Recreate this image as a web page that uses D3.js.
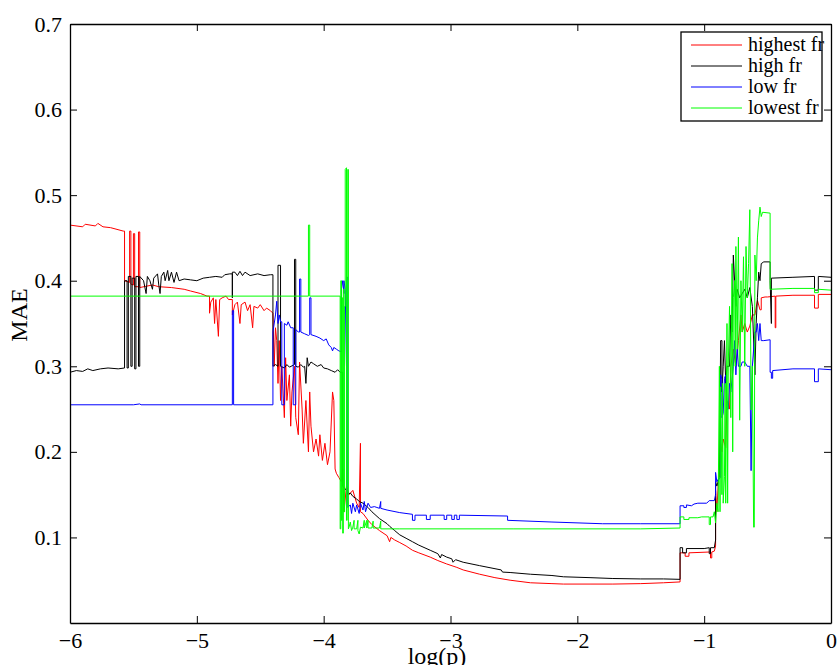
<!DOCTYPE html>
<html>
<head>
<meta charset="utf-8">
<script src="https://cdn.jsdelivr.net/npm/d3@7"></script>
<style>
  body { margin: 0; background: #fff; }
  text { font-family: "Liberation Serif", "DejaVu Serif", serif; }
</style>
</head>
<body>
<div id="chart"></div>
<script>
// tick values
const xTicks = [-6, -5, -4, -3, -2, -1, 0]
const yTicks = [0.1, 0.2, 0.3, 0.4, 0.5, 0.6, 0.7]
const seriesNames = ["highest fr", "high fr", "low fr", "lowest fr"]
const seriesColors = ["#ff0000", "#000000", "#0000ff", "#00ff00"]

// [log(p), MAE]
const highestFr = [
  [-6.00, 0.465], [-5.90, 0.463], [-5.88, 0.466], [-5.80, 0.464], [-5.78, 0.467], [-5.74, 0.463], [-5.68, 0.462], [-5.58, 0.458],
  [-5.57, 0.458], [-5.57, 0.40], [-5.53, 0.398], [-5.53, 0.458], [-5.52, 0.458], [-5.52, 0.396], [-5.50, 0.395], [-5.50, 0.455],
  [-5.49, 0.455], [-5.49, 0.393], [-5.46, 0.393], [-5.46, 0.457], [-5.45, 0.457], [-5.45, 0.392],
  [-5.35, 0.395], [-5.30, 0.393], [-5.20, 0.392], [-5.10, 0.390], [-5.05, 0.388], [-4.97, 0.385], [-4.92, 0.382], [-4.90, 0.382],
  [-4.90, 0.362], [-4.89, 0.375], [-4.87, 0.380], [-4.86, 0.350], [-4.85, 0.378], [-4.83, 0.335], [-4.82, 0.378], [-4.80, 0.380],
  [-4.77, 0.382], [-4.75, 0.378], [-4.72, 0.378], [-4.72, 0.360], [-4.70, 0.372], [-4.68, 0.375], [-4.66, 0.350], [-4.65, 0.372],
  [-4.62, 0.375], [-4.60, 0.365], [-4.58, 0.372], [-4.56, 0.345], [-4.55, 0.370], [-4.52, 0.368], [-4.50, 0.372], [-4.47, 0.365],
  [-4.45, 0.368], [-4.42, 0.365], [-4.40, 0.362],
  [-4.39, 0.30], [-4.38, 0.345], [-4.37, 0.33], [-4.36, 0.28], [-4.35, 0.33], [-4.34, 0.26], [-4.33, 0.30], [-4.31, 0.24],
  [-4.30, 0.31], [-4.29, 0.26], [-4.27, 0.29], [-4.26, 0.23], [-4.25, 0.27], [-4.23, 0.30], [-4.22, 0.24], [-4.20, 0.22],
  [-4.19, 0.305], [-4.17, 0.25], [-4.16, 0.21], [-4.14, 0.26], [-4.12, 0.20], [-4.11, 0.27], [-4.10, 0.23], [-4.08, 0.20],
  [-4.06, 0.215], [-4.04, 0.195], [-4.03, 0.22], [-4.01, 0.19], [-3.99, 0.21], [-3.97, 0.185], [-3.95, 0.20], [-3.93, 0.27],
  [-3.92, 0.26], [-3.91, 0.18], [-3.90, 0.175], [-3.88, 0.17], [-3.86, 0.165], [-3.85, 0.18], [-3.84, 0.13], [-3.82, 0.16],
  [-3.80, 0.15], [-3.77, 0.155], [-3.74, 0.14], [-3.72, 0.135], [-3.71, 0.21], [-3.71, 0.13], [-3.69, 0.128], [-3.65, 0.12],
  [-3.62, 0.115], [-3.56, 0.108], [-3.50, 0.102], [-3.48, 0.095], [-3.47, 0.10], [-3.44, 0.097], [-3.40, 0.094], [-3.35, 0.090],
  [-3.30, 0.085], [-3.25, 0.082], [-3.16, 0.077], [-3.10, 0.073], [-3.03, 0.069], [-2.95, 0.065], [-2.90, 0.062], [-2.77, 0.057],
  [-2.65, 0.053], [-2.53, 0.050], [-2.37, 0.047], [-2.20, 0.046], [-2.11, 0.0455], [-1.90, 0.0455], [-1.72, 0.0455], [-1.50, 0.046],
  [-1.32, 0.047], [-1.19, 0.048],
  [-1.19, 0.082], [-1.15, 0.082], [-1.15, 0.078], [-1.12, 0.078], [-1.12, 0.082], [-0.95, 0.083], [-0.95, 0.076], [-0.94, 0.076],
  [-0.94, 0.083], [-0.92, 0.084],
  [-0.91, 0.09], [-0.91, 0.155], [-0.90, 0.13], [-0.89, 0.16], [-0.87, 0.21], [-0.86, 0.20], [-0.85, 0.215], [-0.83, 0.205],
  [-0.82, 0.26], [-0.80, 0.25], [-0.79, 0.30], [-0.77, 0.32], [-0.75, 0.30], [-0.73, 0.33], [-0.71, 0.36], [-0.70, 0.34],
  [-0.68, 0.35], [-0.66, 0.34], [-0.64, 0.347], [-0.62, 0.36], [-0.60, 0.36], [-0.58, 0.377], [-0.56, 0.366], [-0.55, 0.366],
  [-0.55, 0.38], [-0.52, 0.381], [-0.50, 0.381], [-0.44, 0.382], [-0.44, 0.345], [-0.435, 0.345], [-0.435, 0.382],
  [-0.30, 0.383], [-0.13, 0.383], [-0.13, 0.368], [-0.10, 0.368], [-0.10, 0.384], [0, 0.384]
]

const highFr = [
  [-6.00, 0.293], [-5.95, 0.295], [-5.90, 0.294], [-5.86, 0.297], [-5.82, 0.295], [-5.76, 0.297], [-5.70, 0.298], [-5.62, 0.297],
  [-5.57, 0.298], [-5.57, 0.40], [-5.55, 0.40], [-5.55, 0.298], [-5.54, 0.298], [-5.54, 0.405], [-5.52, 0.405], [-5.52, 0.30],
  [-5.51, 0.30], [-5.51, 0.403], [-5.49, 0.403], [-5.49, 0.297], [-5.48, 0.297], [-5.48, 0.405], [-5.46, 0.405], [-5.46, 0.30],
  [-5.45, 0.30], [-5.45, 0.405],
  [-5.42, 0.40], [-5.40, 0.385], [-5.39, 0.405], [-5.37, 0.40], [-5.35, 0.39], [-5.34, 0.403], [-5.31, 0.408], [-5.30, 0.395],
  [-5.29, 0.385], [-5.28, 0.405], [-5.26, 0.41], [-5.25, 0.40], [-5.23, 0.412], [-5.22, 0.40], [-5.20, 0.41], [-5.18, 0.398],
  [-5.16, 0.41], [-5.14, 0.40], [-5.10, 0.402], [-5.05, 0.401], [-5.00, 0.400], [-4.95, 0.403], [-4.90, 0.404], [-4.85, 0.405],
  [-4.80, 0.404], [-4.78, 0.407], [-4.74, 0.408], [-4.72, 0.408], [-4.72, 0.38], [-4.72, 0.41], [-4.70, 0.41], [-4.68, 0.406],
  [-4.66, 0.411], [-4.64, 0.406], [-4.62, 0.41], [-4.58, 0.406], [-4.52, 0.408], [-4.47, 0.406], [-4.42, 0.407], [-4.40, 0.407],
  [-4.40, 0.30], [-4.38, 0.302], [-4.36, 0.30], [-4.36, 0.418], [-4.34, 0.418], [-4.34, 0.30], [-4.31, 0.298], [-4.29, 0.302],
  [-4.27, 0.299], [-4.23, 0.302], [-4.23, 0.425], [-4.22, 0.425], [-4.22, 0.30], [-4.20, 0.299], [-4.18, 0.302], [-4.16, 0.299],
  [-4.15, 0.30], [-4.14, 0.28], [-4.13, 0.31], [-4.12, 0.30], [-4.10, 0.305], [-4.08, 0.303], [-4.05, 0.30], [-4.02, 0.302],
  [-4.00, 0.298], [-3.97, 0.297], [-3.94, 0.295], [-3.91, 0.293], [-3.89, 0.296], [-3.87, 0.293], [-3.85, 0.293],
  [-3.85, 0.16], [-3.82, 0.155], [-3.81, 0.15], [-3.79, 0.152], [-3.77, 0.148], [-3.74, 0.145], [-3.72, 0.142], [-3.69, 0.14],
  [-3.65, 0.135], [-3.62, 0.13], [-3.56, 0.122], [-3.50, 0.116], [-3.48, 0.113], [-3.44, 0.108], [-3.40, 0.103], [-3.35, 0.099],
  [-3.30, 0.095], [-3.25, 0.091], [-3.16, 0.085], [-3.10, 0.081], [-3.08, 0.076], [-3.07, 0.080], [-3.03, 0.077], [-2.99, 0.075],
  [-2.98, 0.071], [-2.96, 0.074], [-2.90, 0.071], [-2.77, 0.067], [-2.60, 0.062], [-2.59, 0.0595], [-2.53, 0.059], [-2.37, 0.057],
  [-2.20, 0.0555], [-2.11, 0.054], [-1.90, 0.053], [-1.72, 0.052], [-1.50, 0.0515], [-1.32, 0.0515], [-1.19, 0.051],
  [-1.19, 0.088], [-1.17, 0.088], [-1.17, 0.082], [-1.14, 0.082], [-1.14, 0.087], [-1.00, 0.087], [-0.96, 0.088], [-0.96, 0.081],
  [-0.95, 0.081], [-0.95, 0.088], [-0.92, 0.088],
  [-0.91, 0.097], [-0.91, 0.165], [-0.90, 0.16], [-0.88, 0.17], [-0.87, 0.33], [-0.86, 0.33], [-0.86, 0.27], [-0.85, 0.30],
  [-0.84, 0.33], [-0.83, 0.28], [-0.82, 0.30], [-0.80, 0.30], [-0.79, 0.36], [-0.78, 0.34], [-0.77, 0.43], [-0.76, 0.40],
  [-0.75, 0.37], [-0.74, 0.39], [-0.72, 0.38], [-0.70, 0.385], [-0.68, 0.39], [-0.66, 0.38], [-0.64, 0.392], [-0.62, 0.37],
  [-0.60, 0.29], [-0.59, 0.35], [-0.58, 0.38], [-0.57, 0.41], [-0.56, 0.40], [-0.55, 0.42], [-0.53, 0.422], [-0.48, 0.422],
  [-0.48, 0.40], [-0.47, 0.35], [-0.47, 0.403], [-0.30, 0.404], [-0.13, 0.405], [-0.13, 0.389], [-0.10, 0.389], [-0.10, 0.405],
  [0, 0.404]
]

const lowFr = [
  [-6.00, 0.255], [-5.50, 0.255], [-5.45, 0.256], [-5.44, 0.255], [-4.72, 0.255], [-4.72, 0.365], [-4.71, 0.365], [-4.71, 0.255],
  [-4.40, 0.255],
  [-4.40, 0.34], [-4.38, 0.36], [-4.37, 0.376], [-4.36, 0.35], [-4.35, 0.36], [-4.34, 0.352], [-4.33, 0.352], [-4.33, 0.255],
  [-4.31, 0.255], [-4.31, 0.35], [-4.29, 0.348], [-4.28, 0.352], [-4.26, 0.345], [-4.24, 0.345], [-4.24, 0.255], [-4.22, 0.255],
  [-4.22, 0.343], [-4.20, 0.34], [-4.19, 0.34], [-4.19, 0.402], [-4.18, 0.402], [-4.18, 0.34], [-4.15, 0.338], [-4.12, 0.336],
  [-4.11, 0.337], [-4.11, 0.38], [-4.10, 0.38], [-4.10, 0.337], [-4.06, 0.335], [-4.03, 0.333], [-4.00, 0.33], [-3.98, 0.332],
  [-3.96, 0.325], [-3.94, 0.322], [-3.93, 0.318], [-3.92, 0.322], [-3.90, 0.32], [-3.88, 0.318], [-3.86, 0.317],
  [-3.86, 0.39], [-3.85, 0.40], [-3.84, 0.385], [-3.84, 0.40], [-3.83, 0.39], [-3.82, 0.30], [-3.82, 0.404], [-3.81, 0.404],
  [-3.81, 0.135], [-3.79, 0.138], [-3.78, 0.128], [-3.77, 0.14], [-3.75, 0.13], [-3.74, 0.138], [-3.72, 0.128], [-3.71, 0.14],
  [-3.69, 0.132], [-3.68, 0.142], [-3.67, 0.13], [-3.65, 0.14], [-3.63, 0.135], [-3.60, 0.136], [-3.58, 0.135], [-3.56, 0.134],
  [-3.55, 0.142], [-3.55, 0.134], [-3.50, 0.132], [-3.40, 0.129], [-3.30, 0.127], [-3.30, 0.120], [-3.28, 0.120], [-3.28, 0.126],
  [-3.19, 0.126], [-3.19, 0.121], [-3.16, 0.121], [-3.16, 0.126], [-3.05, 0.126], [-3.05, 0.121], [-3.03, 0.121], [-3.03, 0.126],
  [-2.99, 0.126], [-2.99, 0.121], [-2.97, 0.121], [-2.97, 0.126], [-2.95, 0.126], [-2.95, 0.121], [-2.93, 0.121], [-2.93, 0.126],
  [-2.55, 0.125], [-2.55, 0.120], [-2.20, 0.118], [-1.80, 0.116], [-1.50, 0.116], [-1.19, 0.116],
  [-1.19, 0.137], [-1.16, 0.137], [-1.16, 0.135], [-1.14, 0.135], [-1.14, 0.138], [-1.10, 0.137], [-1.08, 0.139], [-1.05, 0.140],
  [-0.98, 0.140], [-0.96, 0.143], [-0.93, 0.143],
  [-0.92, 0.143], [-0.91, 0.15], [-0.91, 0.176], [-0.90, 0.165], [-0.89, 0.168], [-0.87, 0.17], [-0.87, 0.29], [-0.86, 0.285],
  [-0.86, 0.24], [-0.85, 0.245], [-0.84, 0.286], [-0.83, 0.29], [-0.82, 0.25], [-0.81, 0.25], [-0.80, 0.28], [-0.79, 0.27],
  [-0.77, 0.30], [-0.76, 0.33], [-0.75, 0.29], [-0.74, 0.32], [-0.73, 0.30], [-0.71, 0.30], [-0.70, 0.305], [-0.68, 0.305],
  [-0.66, 0.30], [-0.64, 0.30], [-0.63, 0.178], [-0.62, 0.30], [-0.60, 0.34], [-0.59, 0.34], [-0.58, 0.35], [-0.57, 0.33],
  [-0.56, 0.35], [-0.55, 0.33], [-0.53, 0.33], [-0.48, 0.331], [-0.48, 0.293], [-0.47, 0.293], [-0.47, 0.286], [-0.46, 0.286],
  [-0.46, 0.295], [-0.30, 0.297], [-0.13, 0.297], [-0.13, 0.282], [-0.10, 0.282], [-0.10, 0.297], [0, 0.296]
]

const lowestFr = [
  [-6.00, 0.382], [-4.12, 0.382], [-4.12, 0.465], [-4.11, 0.465], [-4.11, 0.382], [-3.87, 0.382],
  [-3.87, 0.11], [-3.865, 0.11], [-3.865, 0.40], [-3.86, 0.40], [-3.86, 0.12], [-3.855, 0.12], [-3.855, 0.38], [-3.85, 0.38],
  [-3.85, 0.105], [-3.845, 0.105], [-3.845, 0.39], [-3.84, 0.39], [-3.84, 0.13], [-3.835, 0.13], [-3.835, 0.37], [-3.83, 0.37],
  [-3.83, 0.53], [-3.82, 0.532], [-3.82, 0.12], [-3.815, 0.12], [-3.815, 0.36], [-3.81, 0.36], [-3.81, 0.53], [-3.805, 0.53],
  [-3.805, 0.11],
  [-3.80, 0.112], [-3.79, 0.118], [-3.78, 0.108], [-3.77, 0.112], [-3.76, 0.12], [-3.76, 0.11], [-3.74, 0.11], [-3.73, 0.12],
  [-3.73, 0.108], [-3.72, 0.104], [-3.71, 0.112], [-3.69, 0.111], [-3.68, 0.12], [-3.68, 0.111], [-3.66, 0.12], [-3.66, 0.111],
  [-3.65, 0.12], [-3.65, 0.111], [-3.62, 0.111], [-3.61, 0.119], [-3.61, 0.111], [-3.56, 0.111], [-3.55, 0.119], [-3.55, 0.110],
  [-3.40, 0.110], [-2.50, 0.110], [-1.50, 0.110], [-1.19, 0.111],
  [-1.19, 0.124], [-1.16, 0.124], [-1.16, 0.121], [-1.12, 0.121], [-1.12, 0.123], [-1.05, 0.123], [-1.02, 0.124], [-0.96, 0.124],
  [-0.96, 0.115], [-0.95, 0.115], [-0.95, 0.124], [-0.93, 0.124],
  [-0.92, 0.13], [-0.91, 0.117], [-0.90, 0.14], [-0.89, 0.13], [-0.88, 0.30], [-0.875, 0.13], [-0.87, 0.276], [-0.86, 0.15],
  [-0.855, 0.28], [-0.85, 0.14], [-0.84, 0.171], [-0.835, 0.28], [-0.83, 0.14], [-0.82, 0.35], [-0.815, 0.14], [-0.81, 0.30],
  [-0.80, 0.37], [-0.79, 0.24], [-0.78, 0.42], [-0.775, 0.20], [-0.77, 0.38], [-0.76, 0.40], [-0.755, 0.30], [-0.75, 0.44],
  [-0.74, 0.32], [-0.73, 0.451], [-0.72, 0.237], [-0.71, 0.40], [-0.70, 0.34], [-0.69, 0.428], [-0.68, 0.30], [-0.67, 0.44],
  [-0.66, 0.38], [-0.65, 0.42], [-0.64, 0.483], [-0.63, 0.249], [-0.62, 0.30], [-0.61, 0.112], [-0.605, 0.112], [-0.60, 0.43],
  [-0.59, 0.40], [-0.58, 0.45], [-0.57, 0.47], [-0.56, 0.486], [-0.55, 0.475], [-0.54, 0.48], [-0.48, 0.479], [-0.48, 0.39],
  [-0.30, 0.391], [-0.13, 0.391], [-0.13, 0.386], [-0.10, 0.386], [-0.10, 0.39], [0, 0.389]
]

const allSeries = [highestFr, highFr, lowFr, lowestFr]

const width = 837
const height = 665
const margin = { "left": 70, "right": 6, "top": 24, "bottom": 42 }

const svg = d3.select("#chart").append("svg")
  .attr("width", width)
  .attr("height", height)

const x = d3.scaleLinear().domain([-6, 0]).range([margin.left, width - margin.right])
const y = d3.scaleLinear().domain([0, 0.7]).range([height - margin.bottom, margin.top])

const line = d3.line()
  .x(d => x(d[0]))
  .y(d => y(d[1]))

svg.append("defs").append("clipPath").attr("id", "clip")
  .append("rect")
  .attr("x", margin.left).attr("y", margin.top)
  .attr("width", width - margin.left - margin.right)
  .attr("height", height - margin.top - margin.bottom)

svg.append("g")
  .attr("clip-path", "url(#clip)")
  .selectAll("path")
  .data(allSeries)
  .enter()
  .append("path")
  .attr("d", line)
  .attr("fill", "none")
  .attr("stroke", (d, i) => seriesColors[i])
  .attr("stroke-width", 1)

// axes, ticks pointing inward on all four sides like matlab
const fmtX = d => d === 0 ? "0" : "\u2212" + Math.abs(d)
const tickLen = 7

const xBottom = svg.append("g")
  .attr("transform", `translate(0,${y(0)})`)
  .call(d3.axisBottom(x).tickValues(xTicks).tickSizeInner(-tickLen).tickSizeOuter(0).tickFormat(fmtX))
const xTop = svg.append("g")
  .attr("transform", `translate(0,${y(0.7)})`)
  .call(d3.axisTop(x).tickValues(xTicks).tickSizeInner(-tickLen).tickSizeOuter(0).tickFormat(""))
const yLeft = svg.append("g")
  .attr("transform", `translate(${x(-6)},0)`)
  .call(d3.axisLeft(y).tickValues(yTicks).tickSizeInner(-tickLen).tickSizeOuter(0).tickPadding(8).tickFormat(d3.format(".1f")))
const yRight = svg.append("g")
  .attr("transform", `translate(${x(0)},0)`)
  .call(d3.axisRight(y).tickValues(yTicks).tickSizeInner(-tickLen).tickSizeOuter(0).tickFormat(""))

for (const g of [xBottom, xTop, yLeft, yRight]) {
  g.select(".domain").attr("stroke", "#000").attr("stroke-width", 1.3)
  g.selectAll(".tick line").attr("stroke", "#000").attr("stroke-width", 1)
  g.selectAll(".tick text")
    .attr("fill", "#000")
    .style("font-family", "'Liberation Serif', serif")
    .style("font-size", "22px")
}
xBottom.selectAll(".tick text").attr("y", 25).attr("dy", 0)

// labels
svg.append("text")
  .attr("x", 437)
  .attr("y", 664)
  .attr("text-anchor", "middle")
  .style("font-size", "24px")
  .text("log(p)")

svg.append("text")
  .attr("transform", "translate(27,315) rotate(-90)")
  .attr("text-anchor", "middle")
  .style("font-size", "24px")
  .text("MAE")

// legend
const legend = svg.append("g")
legend.append("rect")
  .attr("x", 681).attr("y", 32)
  .attr("width", 141).attr("height", 89)
  .attr("fill", "#fff")
  .attr("stroke", "#000")
  .attr("stroke-width", 1.3)

const rows = legend.selectAll(".row")
  .data(seriesNames)
  .enter()
  .append("g")
  .attr("class", "row")
  .attr("transform", (d, i) => `translate(0,${45 + i * 21})`)
rows.append("line")
  .attr("x1", 691).attr("x2", 742)
  .attr("stroke", (d, i) => seriesColors[i])
  .attr("stroke-width", 1)
rows.append("text")
  .attr("x", 748)
  .attr("dy", "0.32em")
  .style("font-size", "20px")
  .text(d => d)
</script>
</body>
</html>
